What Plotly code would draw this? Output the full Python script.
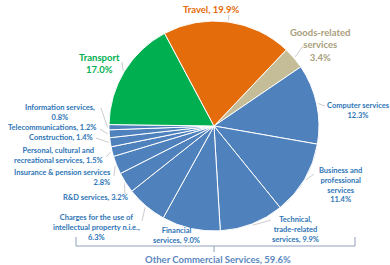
import plotly.graph_objects as go
import math

# ---- data ----
categories = ["Goods-related services", "Computer services", "Business and professional services",
              "Technical, trade-related services", "Financial services",
              "Charges for the use of intellectual property n.i.e.", "R&D services",
              "Insurance & pension services", "Personal, cultural and recreational services",
              "Construction", "Telecommunications", "Information services", "Transport", "Travel"]
values = [3.4, 12.3, 11.4, 9.9, 9.0, 6.3, 3.2, 2.8, 1.5, 1.4, 1.2, 0.8, 17.0, 19.9]
label_texts = ["Goods-related<br>services<br>3.4%", "Computer services<br>12.3%",
               "Business and<br>professional<br>services<br>11.4%",
               "Technical,<br>trade-related<br>services, 9.9%", "Financial<br>services, 9.0%",
               "Charges for the use of<br>intellectual property n.i.e.,<br>6.3%", "R&D services, 3.2%",
               "Insurance & pension services<br>2.8%", "Personal, cultural and<br>recreational services, 1.5%",
               "Construction, 1.4%", "Telecommunications, 1.2%", "Information services,<br>0.8%",
               "Transport<br>17.0%", "Travel, 19.9%"]
group_label = "Other Commercial Services, 59.6%"

# ---- styles ----
W, H = 390, 265
CX, CY, R = 214, 126, 105
ROT = 43.5
BLUE = "#4F81BD"
slice_colors = ["#C4BD97"] + [BLUE] * 11 + ["#00B050", "#E46C0A"]
BLUE_TXT = "#2E75B6"
text_colors = ["#A8A07C"] + [BLUE_TXT] * 11 + ["#00B050", "#E46C0A"]
text_sizes = [9.5] + [7.5] * 11 + [9.5, 9.5]
# label centre positions (px), alignment
label_pos = [(320, 45, "center"), (358, 110, "center"), (340, 185, "center"),
             (295, 229, "center"), (176, 235.5, "center"), (96, 227, "center"),
             (95, 198, "center"), (113, 177.5, "right"), (59, 155, "center"),
             (60.5, 137.5, "center"), (52.5, 127.5, "center"), (60, 112, "center"),
             (100, 64, "center"), (211, 10, "center")]
# label side end of leader line (None = no leader)
leader_end = [(303, 46), (325, 106), (314, 174), (271, 220), None, (142, 221),
              (125, 194), (114, 176), (106, 157), (96, 138), (100, 129), (101, 108),
              (122, 62), (229, 15)]


def px(x):
    return x / W


def py(y):
    return 1 - y / H


fig = go.Figure(go.Pie(
    labels=categories, values=values, sort=False, direction="clockwise", rotation=ROT,
    marker=dict(colors=slice_colors, line=dict(color="white", width=1)),
    textinfo="none", hoverinfo="label+percent", showlegend=False,
    domain=dict(x=[px(CX - R), px(CX + R)], y=[py(CY + R), py(CY - R)]),
))

annotations = []
shapes = []
total = sum(values)
cum = 0
for i, v in enumerate(values):
    mid = ROT + (cum + v / 2) / total * 360
    cum += v
    th = math.radians(mid)
    ex = CX + (R + 1.5) * math.sin(th)
    ey = CY - (R + 1.5) * math.cos(th)
    lx, ly, al = label_pos[i]
    annotations.append(dict(
        x=px(lx), y=py(ly), xref="paper", yref="paper",
        xanchor="right" if al == "right" else "center", yanchor="middle",
        text="<b>" + label_texts[i] + "</b>", align=al, showarrow=False,
        font=dict(family="Lato", size=text_sizes[i], color=text_colors[i])))
    if leader_end[i] is not None:
        ux, uy = leader_end[i]
        shapes.append(dict(type="line", xref="paper", yref="paper",
                           x0=px(ex), y0=py(ey), x1=px(ux), y1=py(uy),
                           line=dict(color="#BFBFBF", width=0.8)))

# bracket for the group
bc = "#8EA0B8"
bpath = "M {},{} L {},{} L {},{} L {},{}".format(px(76), py(237), px(76), py(246), px(355), py(246), px(355), py(237))
shapes.append(dict(type="path", xref="paper", yref="paper", path=bpath, line=dict(color=bc, width=1)))
shapes.append(dict(type="line", xref="paper", yref="paper", x0=px(214), y0=py(246), x1=px(214), y1=py(252),
                   line=dict(color=bc, width=1)))
annotations.append(dict(x=px(218), y=py(259), xref="paper", yref="paper", xanchor="center", yanchor="middle",
                        text="<b>" + group_label + "</b>", showarrow=False,
                        font=dict(family="Lato", size=9.5, color="#5B87BF")))

fig.update_layout(width=W, height=H, margin=dict(l=0, r=0, t=0, b=0),
                  paper_bgcolor="white", plot_bgcolor="white",
                  annotations=annotations, shapes=shapes)
fig.write_html("out.html", config={"displayModeBar": False},
               post_script="document.body.style.margin='0';document.body.style.overflow='hidden';")
